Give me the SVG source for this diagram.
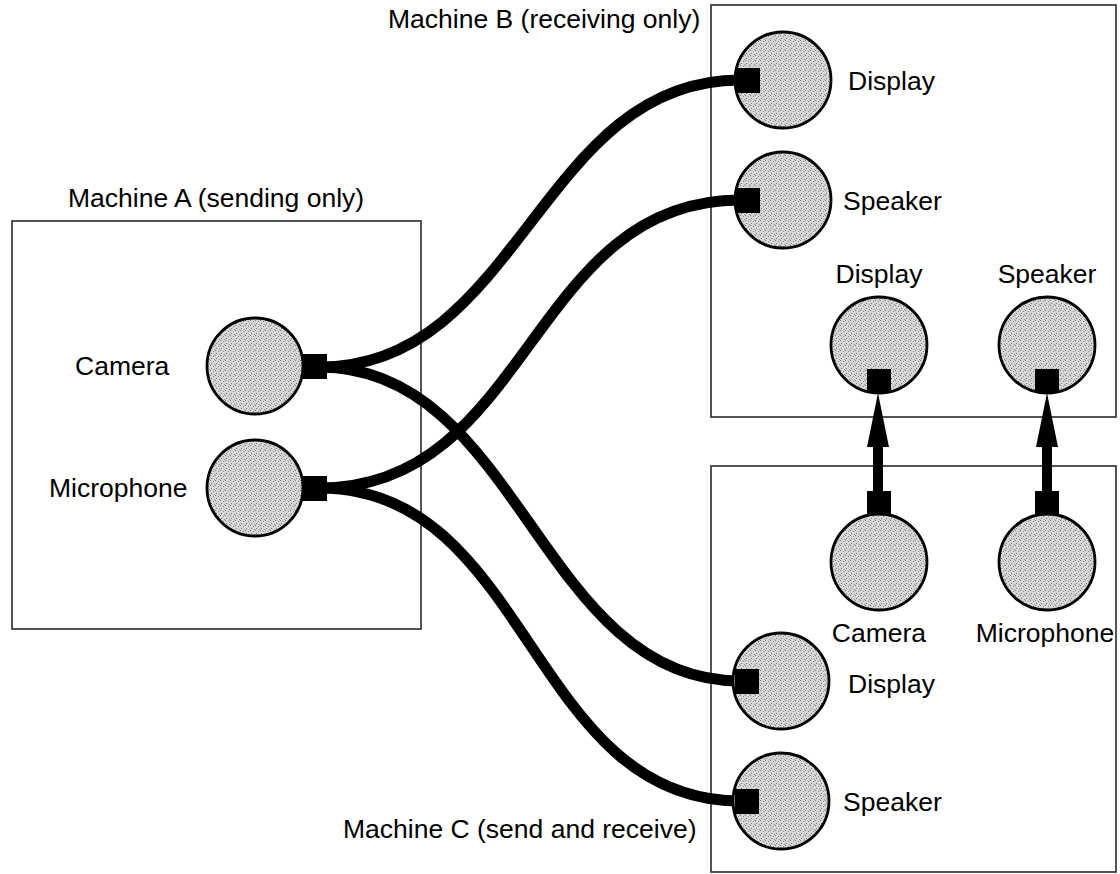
<svg xmlns="http://www.w3.org/2000/svg" width="1120" height="874" viewBox="0 0 1120 874">
  <style>
    .box { fill: none; stroke: #2a2a2a; stroke-width: 1.6; }
    .dev { fill: url(#stipple); stroke: #000; stroke-width: 2.8; }
    .plug { fill: #000; }
    .wire { fill: none; stroke: #000; stroke-width: 11; stroke-linecap: butt; }
    .link { fill: none; stroke: #000; stroke-width: 10; marker-end: url(#head); }
    text { font-family: "Liberation Sans", Arial, sans-serif; font-size: 26.5px; fill: #000; }
    .mid { text-anchor: middle; }
  </style>
  <defs>
    <!-- fine dot screen used for the device discs -->
    <pattern id="stipple" patternUnits="userSpaceOnUse" width="5" height="5">
      <rect width="5" height="5" fill="#d6d6d6"/>
      <rect x="0" y="0" width="1" height="1" fill="#7a7a7a"/>
      <rect x="3" y="1" width="1" height="1" fill="#8a8a8a"/>
      <rect x="1" y="3" width="1" height="1" fill="#7a7a7a"/>
      <rect x="4" y="4" width="1" height="1" fill="#999"/>
    </pattern>
    <marker id="head" markerUnits="userSpaceOnUse" viewBox="0 0 54 22" refX="0" refY="11" markerWidth="54" markerHeight="22" orient="auto">
      <path d="M0,0 L54,11 L0,22 z" fill="#000"/>
    </marker>
  </defs>

  <!-- machine frames -->
  <g id="machine-a">
    <rect class="box" x="12" y="221" width="409" height="408"/>
    <text x="68" y="207">Machine A (sending only)</text>
  </g>
  <g id="machine-b">
    <rect class="box" x="711" y="5" width="405" height="412"/>
    <text x="388" y="28">Machine B (receiving only)</text>
  </g>
  <g id="machine-c">
    <rect class="box" x="711" y="466" width="405" height="406"/>
    <text x="343" y="838">Machine C (send and receive)</text>
  </g>

  <!-- cables and links -->
  <g id="connectors">
    <path class="wire" d="M320,367 C520,367 540,80 740,80"/>
    <path class="wire" d="M320,367 C520,367 540,681 740,681"/>
    <path class="wire" d="M320,488 C530,488 530,200 740,200"/>
    <path class="wire" d="M320,488 C530,488 530,801 740,801"/>
    <path class="link" d="M878,494 L878,447"/>
    <path class="link" d="M1047,494 L1047,447"/>
  </g>

  <!-- Machine A devices -->
  <g id="a-camera">
    <circle class="dev" cx="255" cy="366" r="48"/>
    <rect class="plug" x="303" y="354" width="24" height="25"/>
    <text x="75" y="375">Camera</text>
  </g>
  <g id="a-microphone">
    <circle class="dev" cx="255" cy="488" r="48"/>
    <rect class="plug" x="303" y="476" width="24" height="25"/>
    <text x="49" y="497">Microphone</text>
  </g>

  <!-- Machine B devices -->
  <g id="b-display">
    <circle class="dev" cx="783" cy="80" r="48"/>
    <rect class="plug" x="736" y="68" width="24" height="25"/>
    <text x="848" y="90">Display</text>
  </g>
  <g id="b-speaker">
    <circle class="dev" cx="783" cy="200" r="48"/>
    <rect class="plug" x="736" y="188" width="24" height="25"/>
    <text x="843" y="210">Speaker</text>
  </g>
  <g id="b-display-2">
    <circle class="dev" cx="879" cy="345" r="48"/>
    <rect class="plug" x="867" y="369" width="24" height="24"/>
    <text class="mid" x="879" y="283">Display</text>
  </g>
  <g id="b-speaker-2">
    <circle class="dev" cx="1047" cy="345" r="48"/>
    <rect class="plug" x="1035" y="369" width="24" height="24"/>
    <text class="mid" x="1047" y="283">Speaker</text>
  </g>

  <!-- Machine C devices -->
  <g id="c-camera">
    <circle class="dev" cx="879" cy="562" r="48"/>
    <rect class="plug" x="867" y="491" width="24" height="24"/>
    <text class="mid" x="879" y="642">Camera</text>
  </g>
  <g id="c-microphone">
    <circle class="dev" cx="1047" cy="562" r="48"/>
    <rect class="plug" x="1035" y="491" width="24" height="24"/>
    <text class="mid" x="1045" y="642">Microphone</text>
  </g>
  <g id="c-display">
    <circle class="dev" cx="781" cy="681" r="48"/>
    <rect class="plug" x="735" y="669" width="24" height="25"/>
    <text x="848" y="693">Display</text>
  </g>
  <g id="c-speaker">
    <circle class="dev" cx="781" cy="801" r="48"/>
    <rect class="plug" x="735" y="789" width="24" height="25"/>
    <text x="843" y="811">Speaker</text>
  </g>
</svg>
